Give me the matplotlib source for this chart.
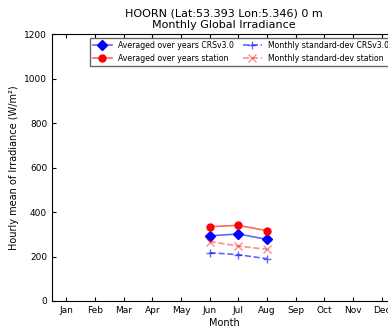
import numpy as np
import matplotlib
matplotlib.use('Agg')
import matplotlib.pyplot as plt

months = ['Jan', 'Feb', 'Mar', 'Apr', 'May', 'Jun', 'Jul', 'Aug', 'Sep', 'Oct', 'Nov', 'Dec']
obs_months = [6, 7, 8]
avg_crs = [293, 301, 277]
avg_station = [334, 340, 316]
std_crs = [217, 208, 190]
std_station = [267, 247, 232]

fig = plt.figure(figsize=(3.88, 3.28), dpi=100)
ax = fig.add_axes([52 / 388, 27 / 328, 344 / 388, 267 / 328])

ax.plot(obs_months, avg_crs, color=(0, 0, 1, 0.6), marker='D', markersize=5,
        markerfacecolor='b', markeredgecolor='b', linewidth=1.2,
        label='Averaged over years CRSv3.0')
ax.plot(obs_months, avg_station, color=(1, 0, 0, 0.6), marker='o', markersize=5,
        markerfacecolor='r', markeredgecolor='r', linewidth=1.2,
        label='Averaged over years station')
ax.plot(obs_months, std_crs, color=(0, 0, 1, 0.6), marker='+', markersize=6,
        linestyle='--', linewidth=1.2, label='Monthly standard-dev CRSv3.0')
ax.plot(obs_months, std_station, color=(1, 0, 0, 0.45), marker='x', markersize=6,
        linestyle='--', linewidth=1.2, label='Monthly standard-dev station')

ax.set_xlim(0.5, 12.5)
ax.set_ylim(0, 1200)
ax.set_xticks(range(1, 13))
ax.set_xticklabels(months)
ax.set_yticks(range(0, 1201, 200))
ax.tick_params(direction='in', top=True, right=True, labelsize=6.5, length=3)
ax.set_xlabel('Month', fontsize=7, labelpad=2)
ax.set_ylabel('Hourly mean of Irradiance (W/m²)', fontsize=7)
ax.set_title('HOORN (Lat:53.393 Lon:5.346) 0 m\nMonthly Global Irradiance',
             fontsize=8, pad=4, linespacing=1.25)
ax.legend(loc='upper right', ncol=2, fontsize=5.6, fancybox=False, framealpha=1,
          edgecolor='0.4', numpoints=1, borderaxespad=0.5, columnspacing=1.2,
          handlelength=2.4, labelspacing=0.45, borderpad=0.4)

plt.savefig('out.png', dpi=100)
